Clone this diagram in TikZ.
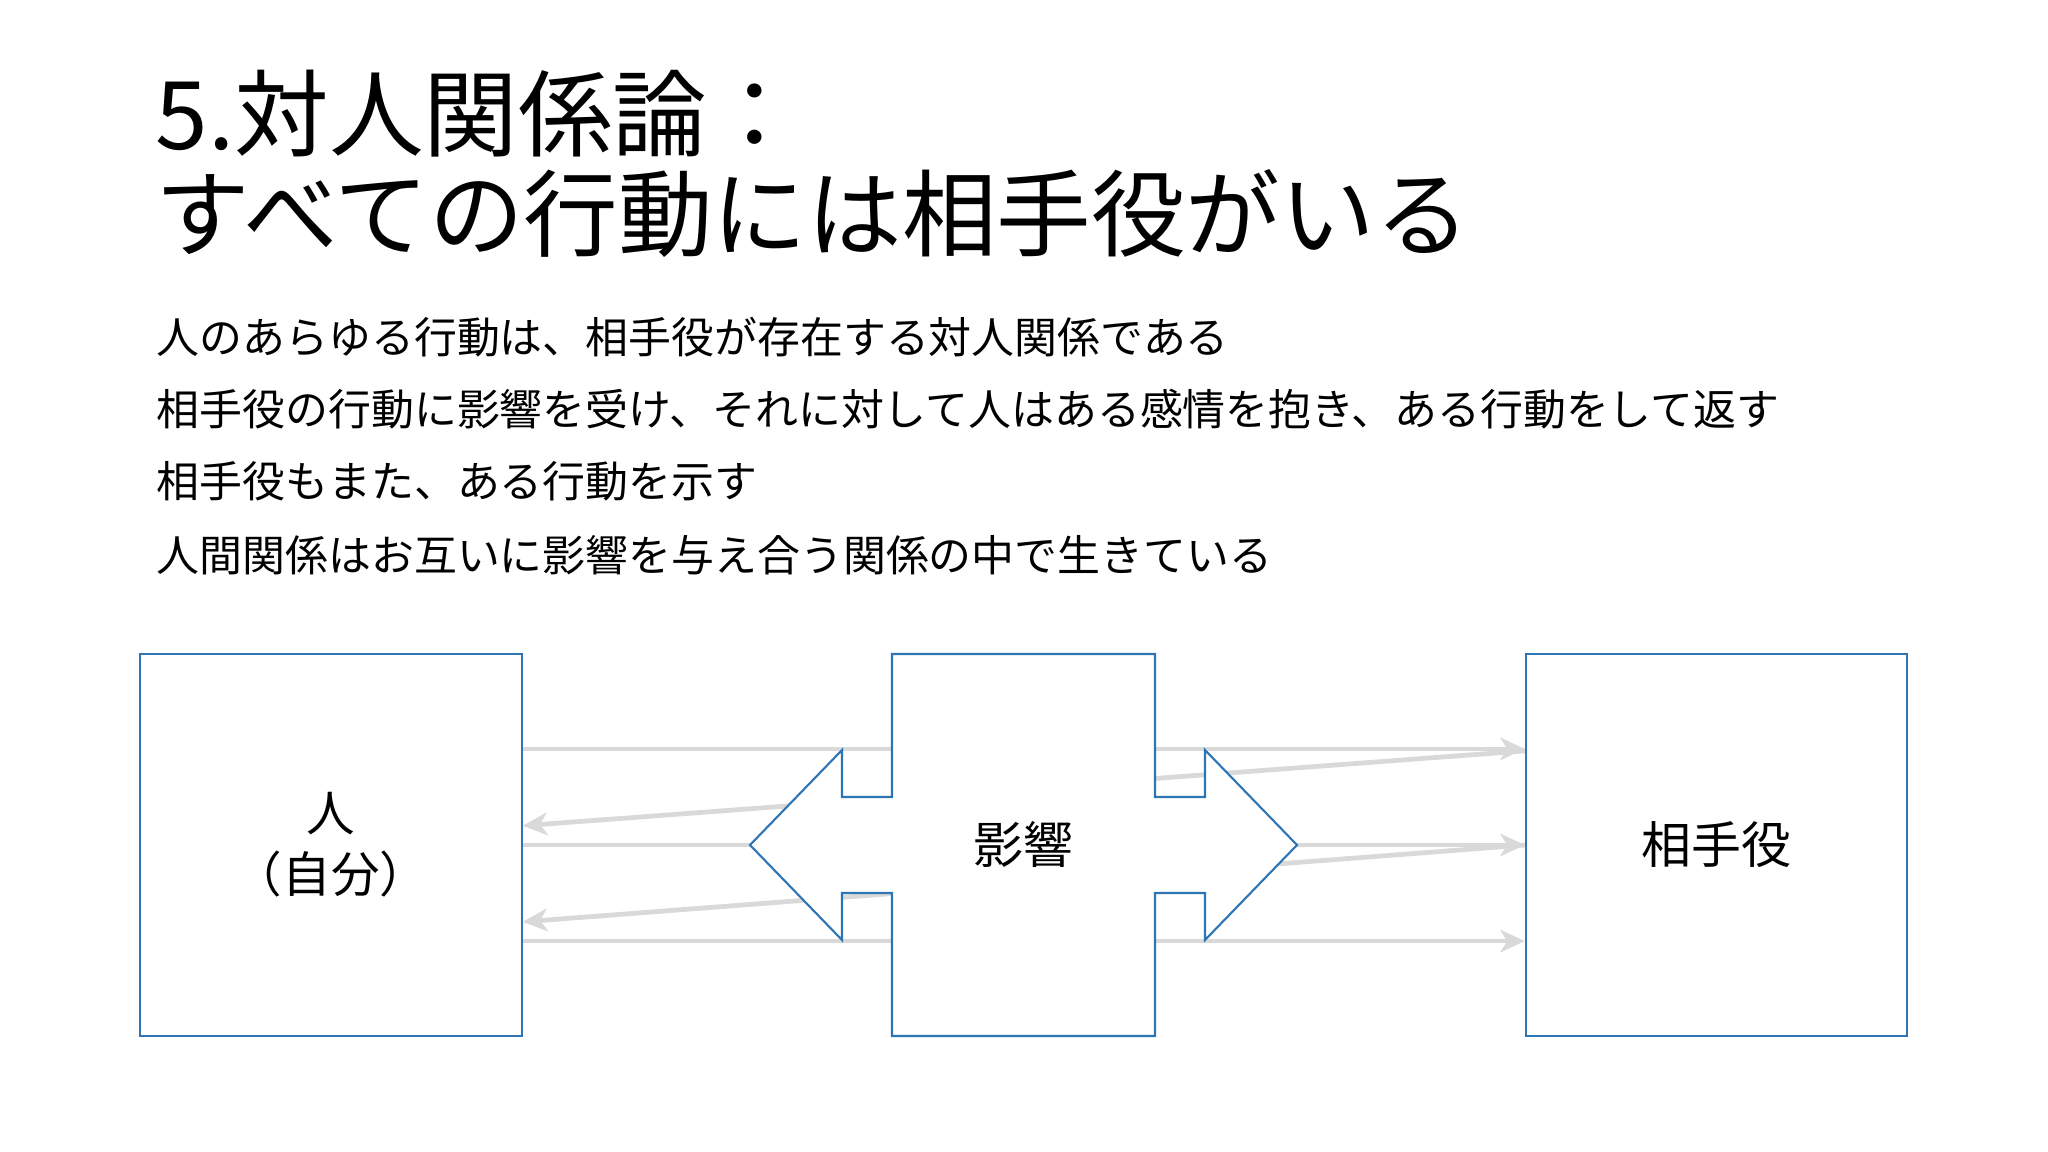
\documentclass[tikz,border=0pt]{standalone}
\usepackage{xcolor}
\usepackage{fontspec}
\setmainfont{Noto Sans CJK JP}
\usetikzlibrary{arrows.meta,calc,positioning}
\definecolor{boxblue}{HTML}{2E75B6}
\definecolor{flowgray}{HTML}{D9D9D9}
\tikzset{
    partybox/.style={draw=boxblue, line width=0.6pt, fill=white, inner sep=0pt,
        minimum width=3.81cm, minimum height=3.82cm, align=center,
        font=\fontsize{13.8pt}{17.3pt}\selectfont},
    flow/.style={draw=flowgray, line width=1.35pt,
        -{Stealth[length=7pt,width=6.4pt,inset=2pt]}},
    influence/.style={draw=boxblue, line width=0.6pt, fill=white, line join=miter},
    bodyline/.style={anchor=base west, inner sep=0pt,
        font=\fontsize{12.2pt}{14pt}\selectfont}
}

\begin{document}
\begin{tikzpicture}[x=0.01cm, y=-0.01cm]
    % Slide background.
    \path[fill=white] (0,0) rectangle (2048,1152);

    % Title.
    \node[anchor=base west, inner sep=0pt, font=\fontsize{26.9pt}{28pt}\selectfont]
        (title1) at (155,150) {5.対人関係論：};
    \node[anchor=base west, inner sep=0pt, font=\fontsize{26.9pt}{28pt}\selectfont]
        (title2) at (155,250) {すべての行動には相手役がいる};

    % Body text.
    \node[bodyline] (line1) at (156,354) {人のあらゆる行動は、相手役が存在する対人関係である};
    \node[bodyline] (line2) at (156,426) {相手役の行動に影響を受け、それに対して人はある感情を抱き、ある行動をして返す};
    \node[bodyline] (line3) at (156,498) {相手役もまた、ある行動を示す};
    \node[bodyline] (line4) at (156,571) {人間関係はお互いに影響を与え合う関係の中で生きている};

    % The two parties.
    \node[partybox] (self) at (331,845) {人\\（自分）};
    \node[partybox, font=\fontsize{14.2pt}{17pt}\selectfont] (partner) at (1716.5,845) {相手役};

    % Actions going out and coming back.
    \foreach \f in {.25,.5,.75}
        \draw[flow] ($(self.north east)!\f!(self.south east)$)
            -- ($(partner.north west)!\f!(partner.south west)$);
    \foreach \a/\b in {.255/.45,.5/.7}
        \draw[flow] ($(partner.north west)!\a!(partner.south west)$)
            -- ($(self.north east)!\b!(self.south east)$);

    % Influence block with the double arrow.
    \coordinate (mid) at (1023.5,845);
    \begin{scope}[shift={(mid)}]
        \draw[influence] (-131.5,-191) -- (131.5,-191) -- (131.5,-48) -- (181.5,-48)
            -- (181.5,-95) -- (273.5,0) -- (181.5,95) -- (181.5,48) -- (131.5,48)
            -- (131.5,191) -- (-131.5,191) -- (-131.5,48) -- (-181.5,48)
            -- (-181.5,95) -- (-273.5,0) -- (-181.5,-95) -- (-181.5,-48)
            -- (-131.5,-48) -- cycle;
    \end{scope}
    \node[font=\fontsize{14.2pt}{17pt}\selectfont] (infl) at (mid) {影響};
\end{tikzpicture}
\end{document}
